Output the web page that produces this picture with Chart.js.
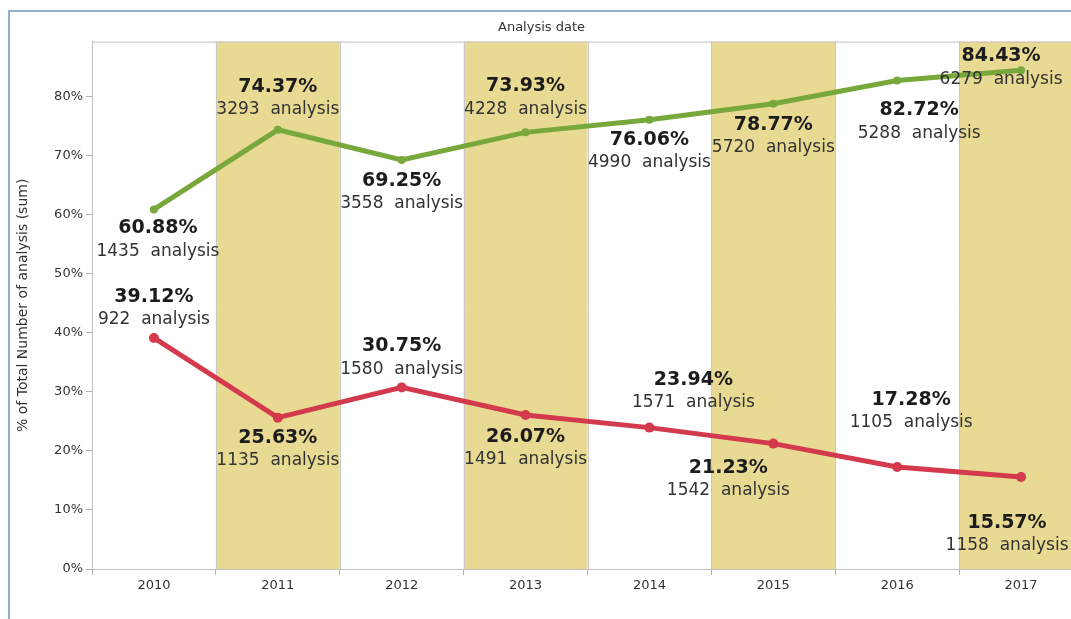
<!DOCTYPE html>
<html>
<head>
<meta charset="utf-8">
<script src="https://cdn.jsdelivr.net/npm/chart.js@4.4.1/dist/chart.umd.min.js"></script>
<style>
  html, body { margin: 0; padding: 0; background: #fff; overflow: hidden; }
  #frame {
    position: absolute; left: 8px; top: 10px; width: 1200px; height: 700px;
    border-top: 2px solid #8fb0c8; border-left: 2px solid #8fb0c8;
  }
  #wrap { position: absolute; left: 0; top: 0; width: 1095px; height: 619px; }
</style>
</head>
<body>
<div id="frame"></div>
<div id="wrap"><canvas id="chart" width="1095" height="619"></canvas></div>
<script>
const years = ['2010', '2011', '2012', '2013', '2014', '2015', '2016', '2017']
const greenPct = [60.88, 74.37, 69.25, 73.93, 76.06, 78.77, 82.72, 84.43]
const greenCount = [1435, 3293, 3558, 4228, 4990, 5720, 5288, 6279]
const redPct = [39.12, 25.63, 30.75, 26.07, 23.94, 21.23, 17.28, 15.57]
const redCount = [922, 1135, 1580, 1491, 1571, 1542, 1105, 1158]
const shadedYears = ['2011', '2013', '2015', '2017']

// label placement next to each point (pixels)
const greenLabelDy = [19, -43, 21, -46, 20, 21, 30, -14]
const greenLabelDx = [4, 0, 0, 0, 0, 0, 22, -20]
const redLabelDy = [-41, 20, -41, 22, -48, 24, -67, 46]
const redLabelDx = [0, 0, 0, 0, 44, -45, 14, -14]

const GREEN = '#78a83b'
const RED = '#d33a4e'
const BAND = '#e8d993'
const AXIS_FONT = {family: '"DejaVu Sans", sans-serif', size: 13}

const bands = {
    id: 'bands',
    beforeDatasetsDraw(chart){
        const {ctx, chartArea, scales: {x}} = chart
        const half = (x.getPixelForValue(1) - x.getPixelForValue(0)) / 2
        ctx.save()
        years.forEach((y, i) => {
            const cx = x.getPixelForValue(i)
            if (shadedYears.includes(y)){
                ctx.fillStyle = BAND
                ctx.fillRect(cx - half, chartArea.top, half * 2, chartArea.bottom - chartArea.top)
            }
        })
        ctx.strokeStyle = '#c8c8c8'
        ctx.lineWidth = 1
        for (let i = 1; i < years.length; i++){
            const bx = Math.round(x.getPixelForValue(i) - half) + 0.5
            ctx.beginPath()
            ctx.moveTo(bx, chartArea.top)
            ctx.lineTo(bx, chartArea.bottom)
            ctx.stroke()
        }
        ctx.strokeStyle = '#c0c0c0'
        ctx.strokeRect(chartArea.left + 0.5, chartArea.top + 0.5, chartArea.right - chartArea.left, chartArea.bottom - chartArea.top)
        ctx.restore()
    }
}

const pointLabels = {
    id: 'pointLabels',
    afterDatasetsDraw(chart){
        const {ctx} = chart
        const sets = [
            {pct: greenPct, count: greenCount, dx: greenLabelDx, dy: greenLabelDy},
            {pct: redPct, count: redCount, dx: redLabelDx, dy: redLabelDy}
        ]
        ctx.save()
        ctx.textAlign = 'center'
        ctx.textBaseline = 'middle'
        sets.forEach((s, di) => {
            const meta = chart.getDatasetMeta(di)
            meta.data.forEach((pt, i) => {
                const cx = pt.x + s.dx[i]
                const cy = pt.y + s.dy[i]
                ctx.font = 'bold 19px "DejaVu Sans", Verdana, sans-serif'
                ctx.fillStyle = '#1c1c1c'
                ctx.fillText(s.pct[i].toFixed(2) + '%', cx, cy)
                ctx.font = '17px "DejaVu Sans", Tahoma, sans-serif'
                ctx.fillStyle = '#333'
                ctx.fillText(s.count[i] + '  analysis', cx, cy + 23)
            })
        })
        ctx.restore()
    }
}

new Chart(document.getElementById('chart'), {
    type: 'line',
    data: {
        labels: years,
        datasets: [
            {
                label: 'green',
                data: greenPct,
                borderColor: GREEN,
                backgroundColor: GREEN,
                borderWidth: 5,
                pointRadius: 4,
                pointBorderWidth: 0,
                tension: 0
            },
            {
                label: 'red',
                data: redPct,
                borderColor: RED,
                backgroundColor: RED,
                borderWidth: 5,
                pointRadius: 5,
                pointBorderWidth: 0,
                tension: 0
            }
        ]
    },
    options: {
        responsive: false,
        animation: false,
        layout: {padding: {left: 0, right: 12, bottom: 20, top: 0}},
        plugins: {
            legend: {display: false},
            tooltip: {enabled: false},
            title: {
                display: true,
                text: 'Analysis date',
                color: '#333',
                font: {family: '"DejaVu Sans", sans-serif', size: 13, weight: 'normal'},
                padding: {top: 20, bottom: 6}
            }
        },
        scales: {
            x: {
                offset: true,
                grid: {display: true, drawOnChartArea: false, offset: true, tickLength: 6, color: '#b0b0b0'},
                border: {color: '#b8b8b8'},
                ticks: {color: '#333', font: AXIS_FONT, padding: 3},
                afterFit(scale){ scale.height = 30 }
            },
            y: {
                min: 0,
                max: 89.3,
                grid: {display: true, drawOnChartArea: false, tickLength: 6, color: '#b0b0b0'},
                border: {color: '#b8b8b8'},
                ticks: {
                    stepSize: 10,
                    includeBounds: false,
                    color: '#333',
                    padding: 3,
                    font: AXIS_FONT,
                    callback: v => v + '%'
                },
                afterBuildTicks(scale){ scale.ticks = scale.ticks.filter(t => t.value % 10 === 0) },
                title: {
                    display: true,
                    text: '% of Total Number of analysis (sum)',
                    color: '#333',
                    font: {family: '"DejaVu Sans", sans-serif', size: 14},
                    padding: {top: 15, bottom: 0}
                },
                afterFit(scale){ scale.width = 92 }
            }
        }
    },
    plugins: [bands, pointLabels]
})
</script>
</body>
</html>
